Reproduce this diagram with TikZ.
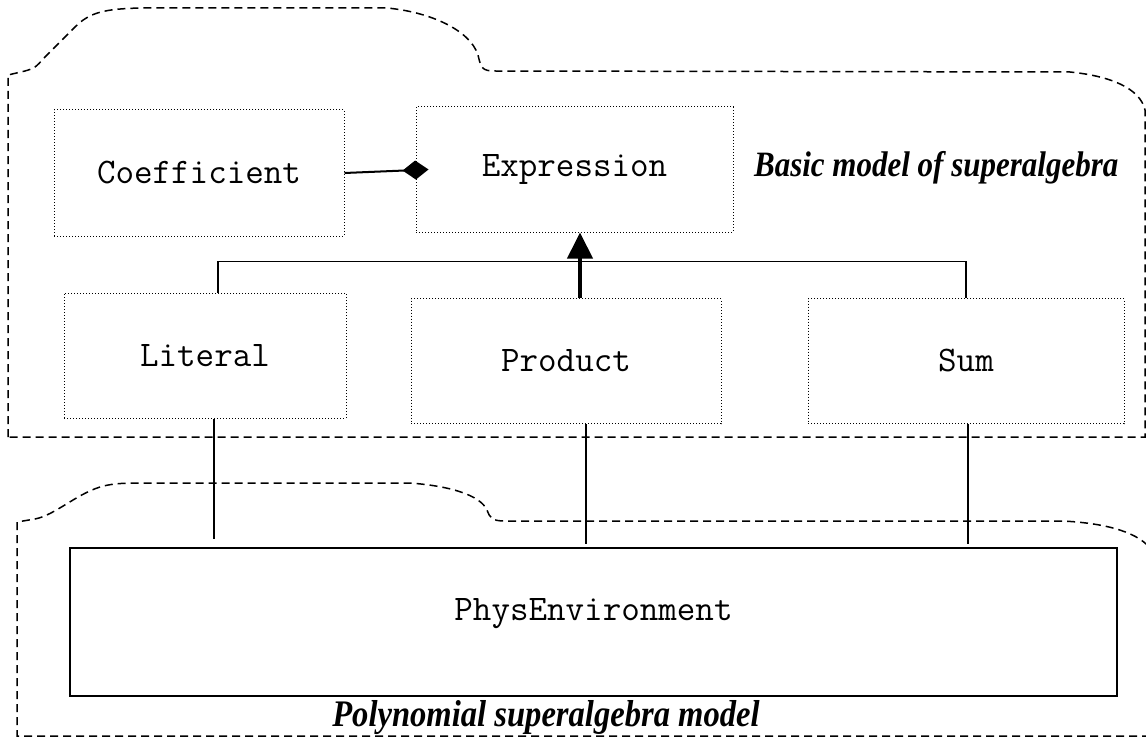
\documentclass[tikz,border=0pt]{standalone}
\usepackage{fontspec}
\setmainfont{Liberation Serif}
\usetikzlibrary{shapes,arrows,arrows.meta}
\usetikzlibrary{positioning}

\begin{document}
\begin{tikzpicture}[x=0.5pt, y=-0.5pt,
  cls/.style={draw, line width=0.5pt, dash pattern=on 0.5pt off 1pt, inner sep=0pt,
    minimum height=62.5pt, font=\ttfamily\fontsize{18pt}{21pt}\selectfont},
  pkg/.style={line width=0.75pt, dash pattern=on 4pt off 2.5pt},
  title/.style={font=\bfseries\itshape\fontsize{15.5pt}{18pt}\selectfont}]
  \useasboundingbox (0,0) rectangle (1146,738);

  % Package "basic model"
  \draw[pkg] (8,437) -- (8,75) -- (25,71) .. controls (35,68) .. (45,57) -- (75,27)
    .. controls (90,12) and (105,9) .. (140,8) -- (387,8)
    .. controls (430,12) and (470,30) .. (478,55) .. controls (481,68) and (482,71) .. (495,71)
    -- (1070,72) .. controls (1110,76) and (1140,88) .. (1145,110) -- (1145,437) -- cycle;

  % Package "polynomial model"
  \draw[pkg] (1150,736) -- (17,736) -- (17,522) -- (35,519)
    .. controls (55,515) and (75,495) .. (100,487) .. controls (110,484) and (120,483) .. (140,483)
    -- (410,483) .. controls (450,486) and (480,495) .. (487,510)
    .. controls (490,518) and (492,521) .. (505,521)
    -- (1063,521) .. controls (1100,523) and (1135,530) .. (1150,548);

  % Classes
  \node[cls, minimum width=145pt, minimum height=63pt] (coef) at (199,173) {Coefficient};
  \node[cls, minimum width=158.5pt] (expr) at (574.5,169.5) {Expression};
  \node[cls, minimum width=141pt] (lit) at (205,355.5) {Literal};
  \node[cls, minimum width=155pt] (prod) at (566,361) {Product};
  \node[cls, minimum width=158pt] (sum) at (966,361) {Sum};
  \node[draw, line width=1pt, minimum width=523.5pt, minimum height=74pt,
    text height=11pt, text depth=13pt,
    font=\ttfamily\fontsize{18pt}{21pt}\selectfont] (phys) at (593.5,622) {PhysEnvironment};

  \node[title, anchor=west] (basic) at (747,168) {\scalebox{1}[1.15]{Basic model of superalgebra}};
  \node[title, font=\bfseries\itshape\fontsize{16.3pt}{18pt}\selectfont] (poly) at (546,718)
    {\scalebox{1}[1.15]{Polynomial superalgebra model}};

  % Relations
  \draw[line width=1pt, -{Diamond[length=13pt,width=9.5pt]}] (coef.east) -- ([xshift=6.5pt]expr.west);
  \draw[line width=0.8pt] ([xshift=6.5pt]lit.north) -- ++(0,-31) -| (sum.north);
  \draw[line width=2pt, -{Triangle[length=13pt,width=12.5pt]}]
    ([xshift=7pt]prod.north) -- ([xshift=7pt]prod.north |- expr.south);

  \draw[line width=0.75pt, shorten >=4pt] ([xshift=4.5pt]lit.south) -- ([xshift=4.5pt]lit.south |- phys.north);
  \draw[line width=0.75pt, shorten >=1.5pt] ([xshift=10pt]prod.south) -- ([xshift=10pt]prod.south |- phys.north);
  \draw[line width=0.75pt, shorten >=1.5pt] ([xshift=1pt]sum.south) -- ([xshift=1pt]sum.south |- phys.north);
\end{tikzpicture}
\end{document}
